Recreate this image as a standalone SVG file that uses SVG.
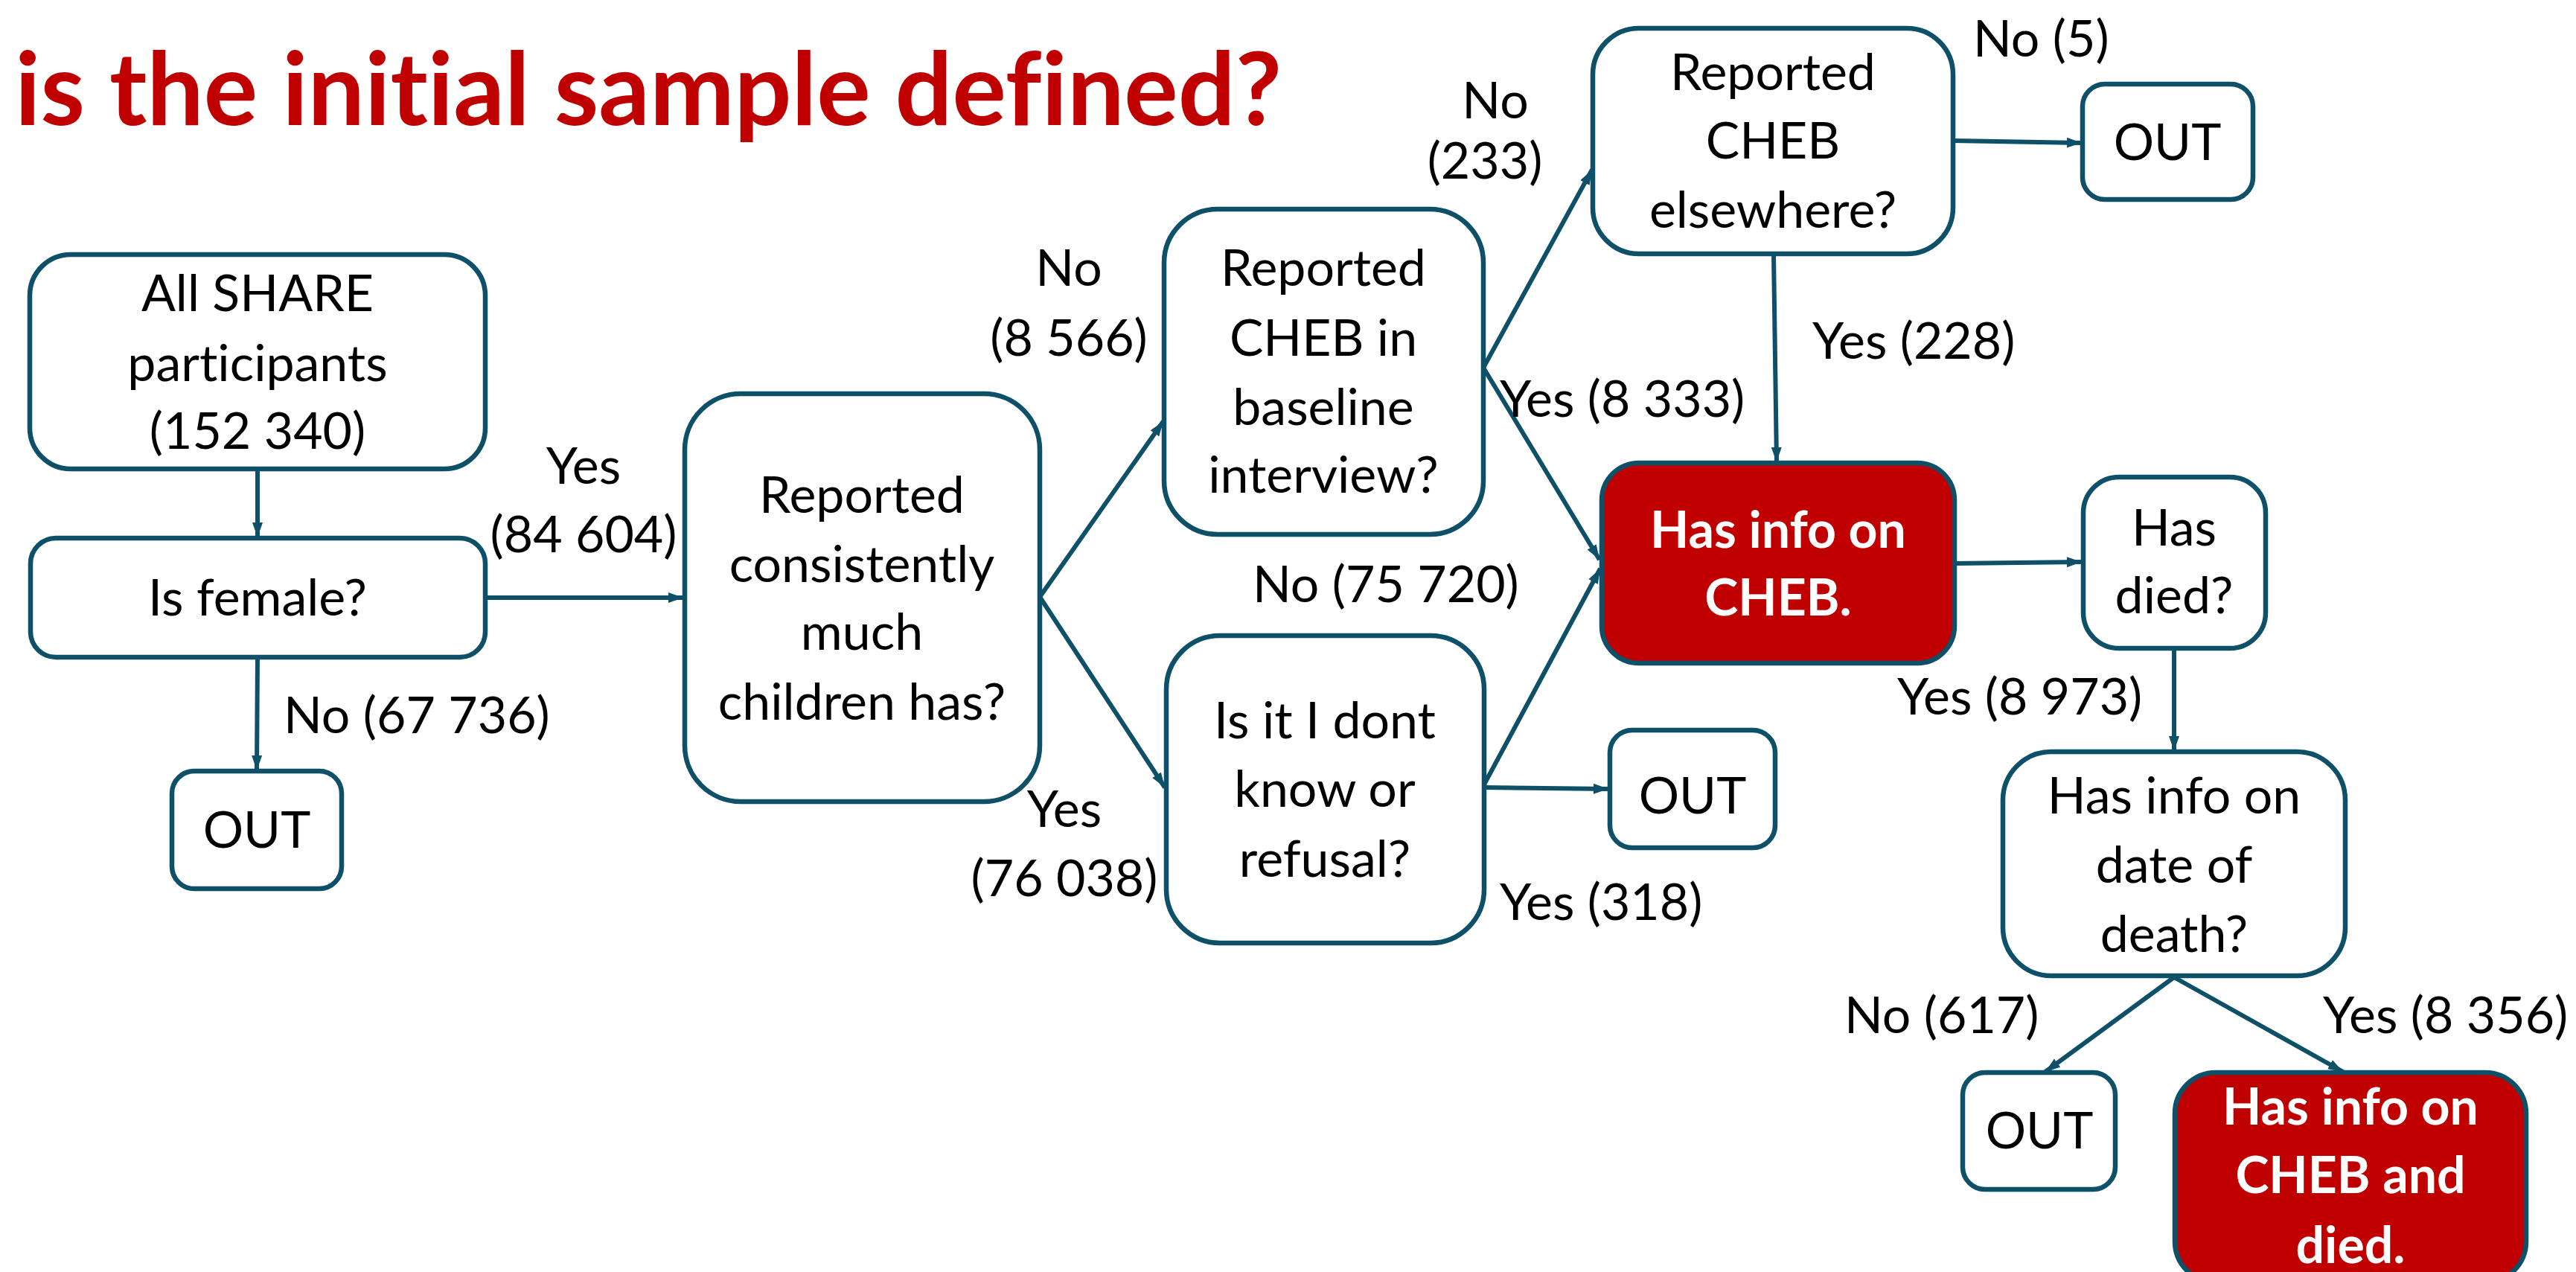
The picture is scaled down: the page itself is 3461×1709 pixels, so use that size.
<svg xmlns="http://www.w3.org/2000/svg" width="3461" height="1709" viewBox="0 0 3461 1709">
<style>
.box{fill:#ffffff;stroke:#0E5068;stroke-width:6.5}
.red{fill:#C00000;stroke:#0E5068;stroke-width:6.5}
text{font-variant-ligatures:none}
.t{font-family:Lato,"Liberation Sans",sans-serif;font-size:68px;fill:#000000;text-anchor:middle}
.l{font-family:Lato,"Liberation Sans",sans-serif;font-size:68px;fill:#000000}
.w{font-family:Lato,"Liberation Sans",sans-serif;font-size:68px;font-weight:700;fill:#ffffff;text-anchor:middle}
.title{font-family:Lato,"Liberation Sans",sans-serif;font-size:136px;font-weight:700;fill:#C00000}
.c{fill:none;stroke:#0E5068;stroke-width:6;marker-end:url(#ah)}
</style>
<defs>
<marker id="ah" markerUnits="userSpaceOnUse" markerWidth="22" markerHeight="18" refX="20" refY="9" orient="auto">
<path d="M0,2 L20,9 L0,16 z" fill="#0E5068"/>
</marker>
</defs>
<rect width="3461" height="1709" fill="#ffffff"/>
<text class="title" x="20" y="168" textLength="1702" lengthAdjust="spacingAndGlyphs">is the initial sample defined?</text>

<g id="connectors">
<line class="c" x1="346" y1="630" x2="346" y2="722"/>
<line class="c" x1="346" y1="883" x2="345" y2="1035"/>
<line class="c" x1="652" y1="803" x2="918" y2="803"/>
<line class="c" x1="1397" y1="802" x2="1563" y2="566"/>
<line class="c" x1="1397" y1="802" x2="1565" y2="1058"/>
<line class="c" x1="1993" y1="494" x2="2139" y2="228"/>
<line class="c" x1="1993" y1="494" x2="2149" y2="752"/>
<line class="c" x1="1994" y1="1054" x2="2150" y2="764"/>
<line class="c" x1="1994" y1="1058" x2="2161" y2="1060"/>
<line class="c" x1="2624" y1="189" x2="2797" y2="192"/>
<line class="c" x1="2383" y1="342" x2="2387" y2="621"/>
<line class="c" x1="2626" y1="757" x2="2797" y2="755"/>
<line class="c" x1="2921" y1="871" x2="2921" y2="1009"/>
<line class="c" x1="2921" y1="1313" x2="2748" y2="1440"/>
<line class="c" x1="2921" y1="1313" x2="3148" y2="1440"/>
</g>

<g id="labels">
<text class="t" x="784" y="650">Yes</text>
<text class="t" x="784" y="742">(84 604)</text>
<text class="l" x="381" y="985">No (67 736)</text>
<text class="t" x="1436" y="384">No</text>
<text class="t" x="1436" y="478">(8 566)</text>
<text class="t" x="1430" y="1111">Yes</text>
<text class="t" x="1430" y="1204">(76 038)</text>
<text class="l" x="1683" y="809">No (75 720)</text>
<text class="l" x="2015" y="560">Yes (8 333)</text>
<text class="l" x="2015" y="1236">Yes (318)</text>
<text class="t" x="2009" y="159">No</text>
<text class="t" x="1995" y="240">(233)</text>
<text class="l" x="2651" y="76">No (5)</text>
<text class="l" x="2435" y="482">Yes (228)</text>
<text class="l" x="2549" y="960">Yes (8 973)</text>
<text class="l" x="2478" y="1388">No (617)</text>
<text class="l" x="3121" y="1388">Yes (8 356)</text>
</g>

<g id="n-all">
<rect class="box" x="40" y="342" width="612" height="288" rx="55"/>
<text class="t" x="346" y="418">All SHARE</text>
<text class="t" x="346" y="512">participants</text>
<text class="t" x="346" y="603">(152 340)</text>
</g>
<g id="n-female">
<rect class="box" x="41" y="723" width="611" height="160" rx="34"/>
<text class="t" x="346" y="827">Is female?</text>
</g>
<g id="n-out1">
<rect class="box" x="231" y="1036" width="228" height="158" rx="30"/>
<text class="t" x="345" y="1139">OUT</text>
</g>
<g id="n-children">
<rect class="box" x="920" y="529" width="477" height="548" rx="75"/>
<text class="t" x="1158" y="689">Reported</text>
<text class="t" x="1158" y="782">consistently</text>
<text class="t" x="1158" y="873">much</text>
<text class="t" x="1158" y="967">children has?</text>
</g>
<g id="n-baseline">
<rect class="box" x="1564" y="281" width="429" height="437" rx="72"/>
<text class="t" x="1778" y="384">Reported</text>
<text class="t" x="1778" y="478">CHEB in</text>
<text class="t" x="1778" y="571">baseline</text>
<text class="t" x="1778" y="662">interview?</text>
</g>
<g id="n-dontknow">
<rect class="box" x="1567" y="854" width="427" height="413" rx="72"/>
<text class="t" x="1780" y="992">Is it I dont</text>
<text class="t" x="1780" y="1084">know or</text>
<text class="t" x="1780" y="1178">refusal?</text>
</g>
<g id="n-out2">
<rect class="box" x="2163" y="981" width="222" height="158" rx="30"/>
<text class="t" x="2274" y="1093">OUT</text>
</g>
<g id="n-elsewhere">
<rect class="box" x="2140" y="38" width="484" height="303" rx="62"/>
<text class="t" x="2382" y="121">Reported</text>
<text class="t" x="2382" y="213">CHEB</text>
<text class="t" x="2382" y="306">elsewhere?</text>
</g>
<g id="n-out3">
<rect class="box" x="2798" y="113" width="229" height="155" rx="30"/>
<text class="t" x="2912" y="215">OUT</text>
</g>
<g id="n-cheb">
<rect class="red" x="2152" y="622" width="474" height="269" rx="50"/>
<text class="w" x="2389" y="736">Has info on</text>
<text class="w" x="2389" y="827">CHEB.</text>
</g>
<g id="n-died">
<rect class="box" x="2799" y="641" width="245" height="230" rx="48"/>
<text class="t" x="2921" y="733">Has</text>
<text class="t" x="2921" y="824">died?</text>
</g>
<g id="n-date">
<rect class="box" x="2691" y="1010" width="460" height="301" rx="65"/>
<text class="t" x="2921" y="1093">Has info on</text>
<text class="t" x="2921" y="1186">date of</text>
<text class="t" x="2921" y="1279">death?</text>
</g>
<g id="n-out4">
<rect class="box" x="2637" y="1441" width="205" height="157" rx="30"/>
<text class="t" x="2740" y="1543">OUT</text>
</g>
<g id="n-final">
<rect class="red" x="2922" y="1441" width="472" height="282" rx="55"/>
<text class="w" x="3158" y="1511">Has info on</text>
<text class="w" x="3158" y="1603">CHEB and</text>
<text class="w" x="3158" y="1697">died.</text>
</g>
</svg>
